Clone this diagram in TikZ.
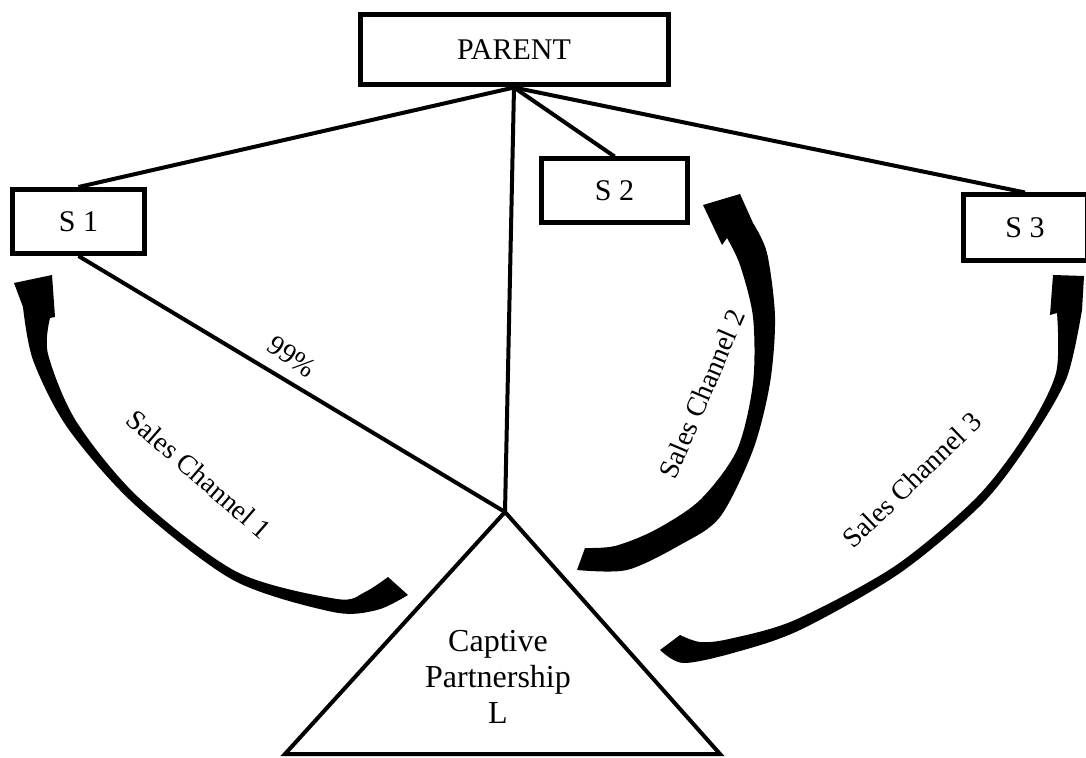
\documentclass[tikz,border=0pt]{standalone}
\usepackage{fontspec}
\setmainfont{Liberation Serif}
\usetikzlibrary{positioning}
\tikzset{
  ent/.style={draw=black, line width=2.5pt, fill=white, inner sep=0pt,
    font=\fontsize{15}{18}\selectfont},
  link/.style={line width=2pt},
  chan/.style={inner sep=0pt, font=\fontsize{14}{16}\selectfont},
  flow/.style={fill=black}
}

\begin{document}
\begin{tikzpicture}[x=0.5pt,y=-0.5pt]
\useasboundingbox (0,0) rectangle (1086,758);
\node[ent, minimum width=154pt, minimum height=35pt] (parent) at (514,50) {PARENT};
\node[ent, minimum width=66pt, minimum height=32pt] (s1) at (78.5,221.5) {S 1};
\node[ent, minimum width=73pt, minimum height=32pt] (s2) at (614.5,191) {S 2};
\node[ent, minimum width=62pt, minimum height=33pt] (s3) at (1025,228) {S 3};
\coordinate (apex) at (505,512);
\coordinate (bl) at (285,754);
\coordinate (br) at (720,754);
\draw[link] (parent.south) -- (s1.north);
\draw[link] (parent.south) -- (s2.north);
\draw[link] (parent.south) -- (s3.north);
\draw[link] (parent.south) -- (apex);
\draw[link] (s1.south) -- (apex);
\draw[link] (apex) -- (bl) -- (br) -- cycle;
\node[align=center, font=\fontsize{16}{18}\selectfont] (cp) at (498,677) {Captive\\Partnership\\L};
\node[chan, rotate=-35] (pct) at (292,357) {99\%};
\node[chan, rotate=-41] (ch1) at (199,474) {Sales Channel 1};
\node[chan, rotate=67] (ch2) at (702,394) {Sales Channel 2};
\node[chan, rotate=44] (ch3) at (912,480) {Sales Channel 3};
% channel arrows
\fill[flow] plot[smooth] coordinates {(408,595) (377,610) (333,612) (233,580) (133,503) (67,427) (33,360) (23,307)}
  -- (14,283) -- (52,275) -- (55,317) -- (50,318)
  -- plot[smooth] coordinates {(50,318) (48,354) (76,421) (138,497) (237,572) (337,599) (365,592) (388,577)} -- cycle;
\fill[flow] plot[smooth] coordinates {(577,570) (627,570) (680,545) (720,517) (753,450) (770,383) (775,317) (767,253) (753,223)}
  -- (740,194) -- (703,205) -- (722,245) -- (727,238)
  -- plot[smooth] coordinates {(727,238) (740,265) (753,317) (753,383) (737,450) (700,500) (655,530) (615,546) (585,548)} -- cycle;
\fill[flow] plot[smooth] coordinates {(660,650) (683,663) (733,653) (800,630) (900,573) (983,503) (1033,437) (1067,377) (1082,310)}
  -- (1084,276) -- (1053,275) -- (1050,315) -- (1057,313)
  -- plot[smooth] coordinates {(1057,313) (1056,373) (1026,433) (977,497) (895,566) (795,620) (729,639) (700,642) (680,635)} -- cycle;
\end{tikzpicture}
\end{document}
